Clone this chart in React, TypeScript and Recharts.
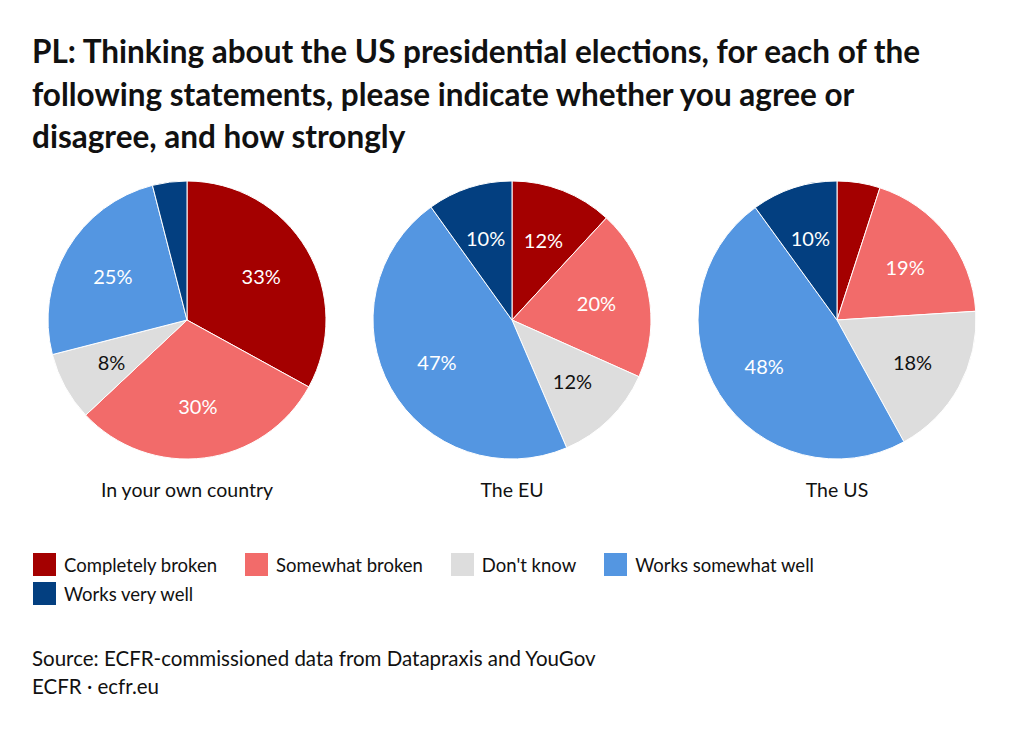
import React from 'react';
import { PieChart, Pie, Cell } from 'recharts';

const categories = ['Completely broken', 'Somewhat broken', "Don't know", 'Works somewhat well', 'Works very well'];
const colors = ['#a40000', '#f26b6a', '#dddddd', '#5496e1', '#033f80'];
const labelColors = ['#ffffff', '#ffffff', '#111111', '#ffffff', '#ffffff'];

const groups = ['In your own country', 'The EU', 'The US'];
const ownCountry = [33, 30, 8, 25, 4];
const theEU = [12, 20, 12, 47, 10];
const theUS = [5, 19, 18, 48, 10];
const seriesValues = [ownCountry, theEU, theUS];

const titleLines = [
    'PL: Thinking about the US presidential elections, for each of the',
    'following statements, please indicate whether you agree or',
    'disagree, and how strongly',
];
const sourceLines = ['Source: ECFR-commissioned data from Datapraxis and YouGov', 'ECFR · ecfr.eu'];

const FONT = 'Lato, "Open Sans", sans-serif';
const RADIAN = Math.PI / 180;
const centersX = [187, 512, 837];
const centerY = 320;
const radius = 139;

const renderLabel = (props: any) => {
    const { cx, cy, midAngle, outerRadius, value, index } = props;
    if (value < 8) return null;
    const r = outerRadius * 0.62;
    const x = cx + r * Math.cos(-midAngle * RADIAN);
    const y = cy + r * Math.sin(-midAngle * RADIAN);
    return (
        <text
            x={x}
            y={y}
            fill={labelColors[index]}
            textAnchor="middle"
            dominantBaseline="central"
            fontSize={20}
            fontFamily={FONT}
        >
            {value}%
        </text>
    );
};

export default function App() {
    // one data table per pie
    const pieData = seriesValues.map((vals) =>
        vals.map((v, i) => ({ name: categories[i], value: v }))
    );

    return (
        <div
            style={{
                position: 'absolute',
                left: 0,
                top: 0,
                width: 1024,
                height: 731,
                background: '#fff',
                fontFamily: FONT,
                color: '#111',
            }}
        >
            <div
                style={{
                    position: 'absolute',
                    left: 32,
                    top: 30,
                    fontSize: 31.5,
                    fontWeight: 700,
                    lineHeight: '42.5px',
                    letterSpacing: 0,
                }}
            >
                {titleLines.map((l) => (
                    <div key={l}>{l}</div>
                ))}
            </div>

            <div style={{ position: 'absolute', left: 0, top: 0 }}>
                <PieChart width={1024} height={731} margin={{ top: 0, right: 0, bottom: 0, left: 0 }}>
                    {pieData.map((d, k) => (
                        <Pie
                            key={groups[k]}
                            data={d}
                            dataKey="value"
                            nameKey="name"
                            cx={centersX[k]}
                            cy={centerY}
                            outerRadius={radius}
                            startAngle={90}
                            endAngle={-270}
                            stroke="#ffffff"
                            strokeWidth={1}
                            label={renderLabel}
                            labelLine={false}
                            isAnimationActive={false}
                        >
                            {d.map((entry, i) => (
                                <Cell key={entry.name} fill={colors[i]} />
                            ))}
                        </Pie>
                    ))}
                </PieChart>
            </div>

            {groups.map((g, k) => (
                <div
                    key={g}
                    style={{
                        position: 'absolute',
                        left: centersX[k] - 150,
                        width: 300,
                        top: 478,
                        textAlign: 'center',
                        fontSize: 19.5,
                    }}
                >
                    {g}
                </div>
            ))}

            <div
                style={{
                    position: 'absolute',
                    left: 33,
                    top: 553,
                    width: 840,
                    display: 'flex',
                    flexWrap: 'wrap',
                    rowGap: 6,
                    fontSize: 18.5,
                }}
            >
                {categories.map((c, i) => (
                    <div key={c} style={{ display: 'flex', alignItems: 'center', marginRight: 28, height: 23 }}>
                        <span style={{ width: 23, height: 23, background: colors[i], marginRight: 8 }} />
                        <span>{c}</span>
                    </div>
                ))}
            </div>

            <div style={{ position: 'absolute', left: 32, top: 644, fontSize: 20.5, lineHeight: '28px' }}>
                {sourceLines.map((l) => (
                    <div key={l}>{l}</div>
                ))}
            </div>
        </div>
    );
}
